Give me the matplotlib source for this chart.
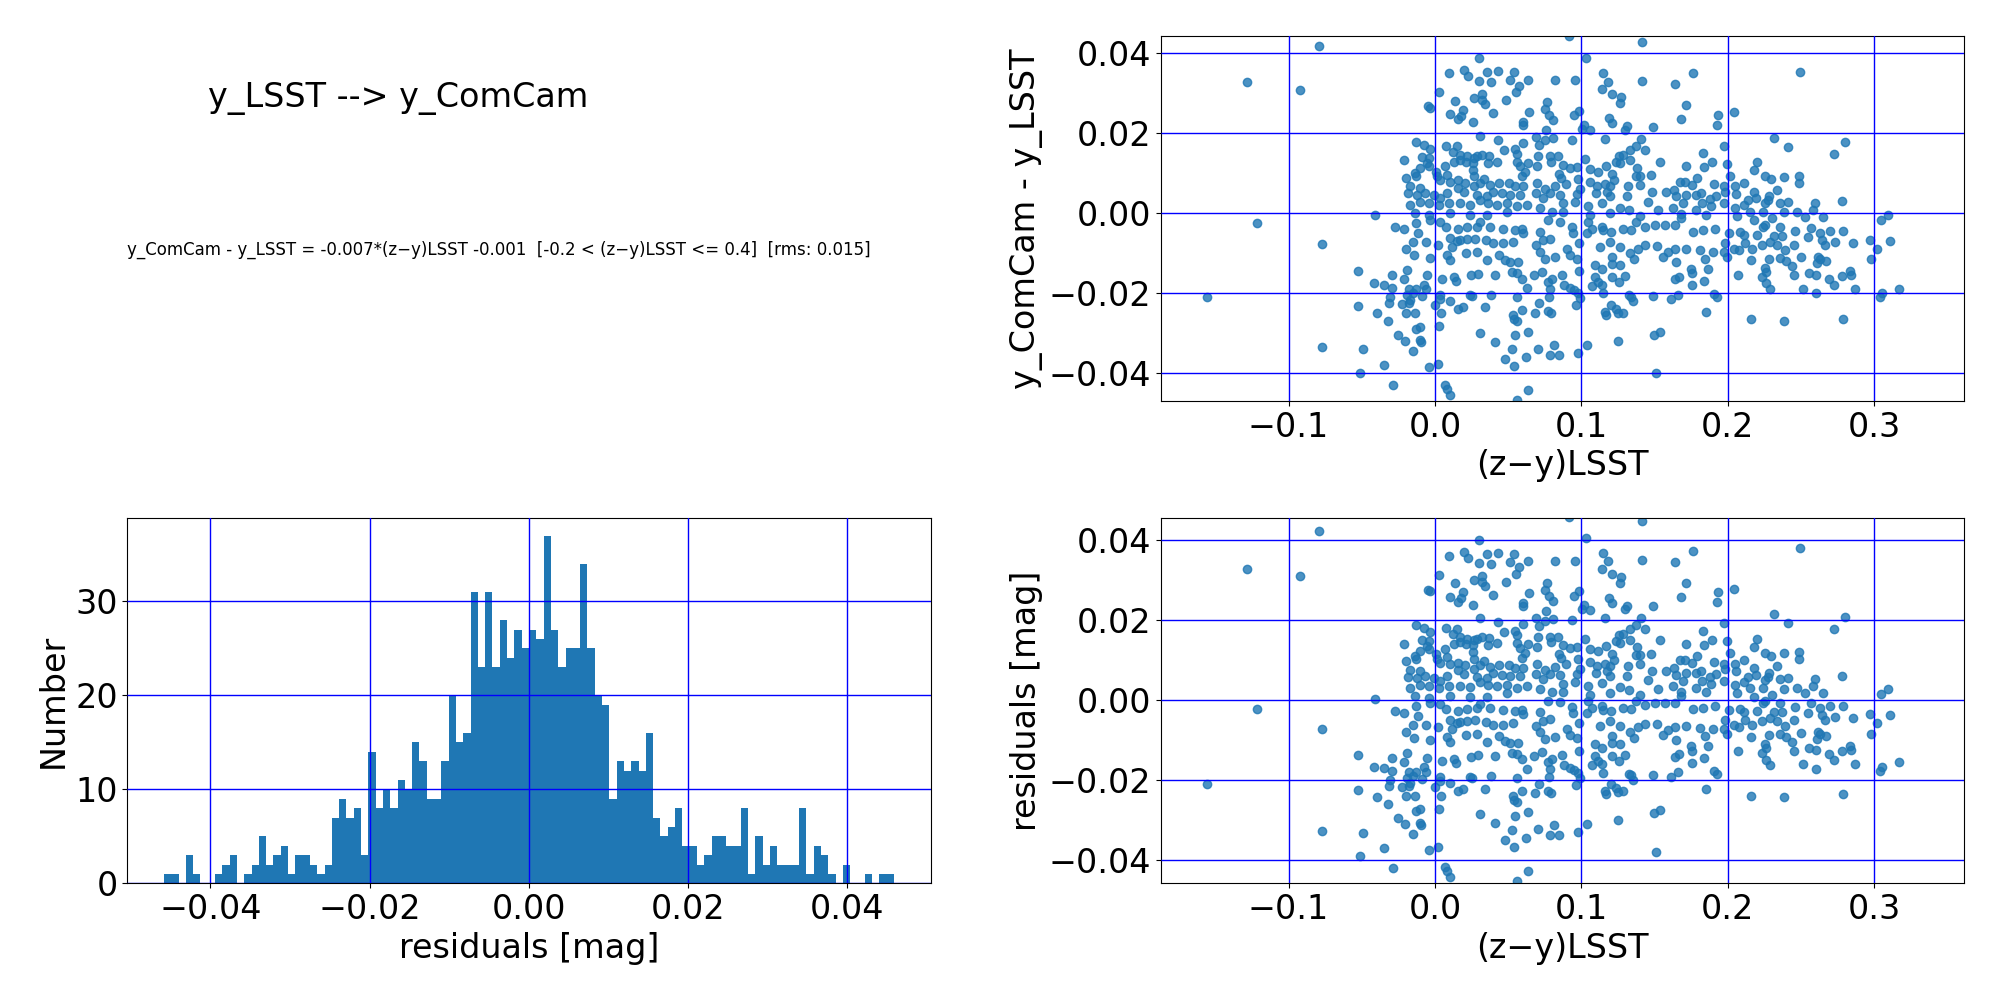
import numpy as np
import matplotlib
matplotlib.use('Agg')
import matplotlib.pyplot as plt

# fit used for the transformation
slope = -0.007
intercept = -0.001
rms = 0.015
title_txt = 'y_LSST --> y_ComCam'
fit_txt = ('y_ComCam - y_LSST = -0.007*(z\u2212y)LSST -0.001  '
           '[-0.2 < (z\u2212y)LSST <= 0.4]  [rms: 0.015]')

# (z-y)LSST, y_ComCam - y_LSST, grouped by region
pts_far_left = [(-0.1557, -0.0210), (-0.1287, 0.0327), (-0.1217, -0.0025), (-0.0922, 0.0308),
                (-0.0791, 0.0419), (-0.0774, -0.0076), (-0.0774, -0.0333)]

pts_left_top = [(0.0298,0.0388),(0.0093,0.0350),(0.0200,0.0358),(0.0229,0.0343),(0.0359,0.0352),(0.0434,0.0356),
    (0.0540,0.0352),(0.0298,0.0331),(0.0384,0.0327),(0.0514,0.0333),(0.0577,0.0318),(0.0638,0.0333),(0.0025,0.0302),
    (-0.0048,0.0267),(-0.0032,0.0263),(0.0139,0.0281),(0.0264,0.0288),(0.0325,0.0298),(0.0320,0.0283),(0.0339,0.0273),
    (0.0486,0.0282),(0.0554,0.0302),(0.0195,0.0258),(0.0105,0.0248),(0.0177,0.0243),(0.0161,0.0235),(0.0257,0.0227),
    (0.0400,0.0250),(0.0600,0.0229),(0.0600,0.0221),(0.0641,0.0254),(0.0311,0.0192),(0.0434,0.0182),(0.0604,0.0175),
    (-0.0132,0.0178),(-0.0073,0.0170),(-0.0032,0.0160),(0.0073,0.0169),(0.0150,0.0168),(0.0123,0.0154),(0.0173,0.0146),
    (0.0218,0.0142),(0.0264,0.0138),(0.0325,0.0146),(0.0370,0.0143),(0.0473,0.0157),(0.0548,0.0160),(0.0559,0.0148),
    (-0.0214,0.0132),(-0.0086,0.0140),(-0.0043,0.0138),(-0.0055,0.0125),(-0.0100,0.0114),(-0.0134,0.0100),(-0.0127,0.0093),
    (-0.0198,0.0088),(-0.0043,0.0117),(0.0009,0.0104),(0.0066,0.0117),(0.0082,0.0096),(0.0127,0.0129),(0.0173,0.0133),
    (0.0214,0.0129),(0.0259,0.0125),(0.0259,0.0108),(0.0286,0.0142),(0.0366,0.0125),(0.0423,0.0129),(0.0270,0.0092),
    (0.0332,0.0085),(0.0559,0.0129),(0.0582,0.0117),(0.0593,0.0092),(0.0638,0.0125),(0.0616,0.0104),(0.0014,0.0092),
    (0.0036,0.0083),(0.0105,0.0079),(0.0161,0.0082),(0.0207,0.0075),(0.0155,0.0063),(0.0200,0.0054),(0.0264,0.0067),
    (0.0309,0.0075),(0.0377,0.0071),(0.0441,0.0075),(0.0509,0.0075),(0.0548,0.0067),(0.0604,0.0067),(-0.0168,0.0067),
    (-0.0100,0.0063),(-0.0186,0.0050),(-0.0123,0.0046),(-0.0066,0.0050),(-0.0005,0.0046),(0.0036,0.0038),(0.0082,0.0050),
    (0.0286,0.0046),(0.0354,0.0042),(0.0400,0.0054),(0.0457,0.0050),(0.0514,0.0046),(0.0582,0.0046),(-0.0168,0.0021),
    (-0.0100,0.0029),(-0.0043,0.0025),(0.0025,0.0021),(0.0093,0.0025),(0.0173,0.0025),(0.0241,0.0021),(0.0309,0.0033),
    (0.0366,0.0025),(0.0423,0.0021),(0.0491,0.0025),(0.0559,0.0017),(0.0627,0.0021),(-0.0407,-0.0004),(-0.0134,0.0000),
    (-0.0043,-0.0004),(0.0105,0.0000),(0.0241,-0.0004),(0.0354,-0.0004),(0.0491,0.0004)]

pts_left_bot = [(-0.0127,-0.0025),(-0.0036,-0.0017),(0.0036,-0.0021),(-0.0275,-0.0035),(-0.0214,-0.0040),(-0.0118,-0.0050),
    (-0.0150,-0.0071),(-0.0198,-0.0089),(-0.0141,-0.0104),(-0.0059,-0.0071),(-0.0036,-0.0111),(0.0018,-0.0078),(0.0073,-0.0033),
    (0.0100,-0.0061),(0.0161,-0.0039),(0.0218,-0.0033),(0.0286,-0.0033),(0.0309,-0.0021),(0.0377,-0.0033),(0.0464,-0.0038),
    (0.0548,-0.0042),(0.0593,-0.0038),(0.0116,-0.0083),(0.0150,-0.0069),(0.0173,-0.0067),(0.0218,-0.0063),(0.0275,-0.0063),
    (0.0348,-0.0067),(0.0400,-0.0075),(0.0468,-0.0075),(0.0536,-0.0071),(0.0604,-0.0050),(0.0082,-0.0104),(0.0105,-0.0117),
    (0.0214,-0.0100),(0.0286,-0.0096),(0.0359,-0.0117),(0.0441,-0.0104),(0.0480,-0.0117),(0.0514,-0.0121),(0.0570,-0.0121),
    (-0.0527,-0.0144),(-0.0414,-0.0175),(-0.0345,-0.0178),(-0.0295,-0.0153),(-0.0293,-0.0186),(-0.0214,-0.0164),(-0.0191,-0.0142),
    (-0.0180,-0.0188),(-0.0127,-0.0189),(-0.0073,-0.0178),(-0.0055,-0.0154),(-0.0059,-0.0189),(0.0048,-0.0164),(0.0132,-0.0158),
    (0.0141,-0.0169),(0.0248,-0.0154),(0.0291,-0.0151),(0.0411,-0.0153),(0.0525,-0.0146),(0.0559,-0.0148),(0.0598,-0.0163),
    (0.0627,-0.0186),(-0.0309,-0.0208),(-0.0316,-0.0223),(-0.0191,-0.0204),(-0.0168,-0.0217),(-0.0180,-0.0225),(-0.0150,-0.0200),
    (-0.0089,-0.0206),(0.0032,-0.0203),(0.0036,-0.0213),(0.0002,-0.0228),(0.0100,-0.0219),(0.0155,-0.0240),(0.0195,-0.0233),
    (0.0241,-0.0204),(0.0252,-0.0206),(0.0384,-0.0204),(0.0343,-0.0235),(0.0563,-0.0209),(-0.0527,-0.0232),(-0.0395,-0.0250),
    (-0.0225,-0.0227),(-0.0195,-0.0250),(-0.0139,-0.0250),(0.0043,-0.0250),(-0.0323,-0.0268),(-0.0100,-0.0283),(-0.0127,-0.0288),
    (0.0025,-0.0282),(0.0532,-0.0254),(0.0541,-0.0263),(0.0559,-0.0269),(0.0593,-0.0242),(-0.0254,-0.0304),(-0.0207,-0.0319),
    (-0.0100,-0.0317),(-0.0095,-0.0322),(0.0305,-0.0298),(0.0548,-0.0304),(0.0638,-0.0296),(-0.0493,-0.0340),(-0.0152,-0.0344),
    (0.0411,-0.0321),(0.0529,-0.0340),(-0.0345,-0.0379),(-0.0043,-0.0385),(0.0020,-0.0377),(0.0482,-0.0364),(0.0541,-0.0381),
    (0.0623,-0.0360),(-0.0514,-0.0398),(-0.0289,-0.0429),(0.0070,-0.0429),(0.0082,-0.0439),(0.0100,-0.0454),(0.0559,-0.0467),
    (0.0638,-0.0442)]

pts_mid_top = [(0.0918,0.0443),(0.1416,0.0429),(0.1030,0.0388),(0.0820,0.0332),(0.0959,0.0332),(0.1150,0.0350),(0.1180,0.0329),
    (0.1416,0.0331),(0.1639,0.0323),(0.1763,0.0350),(0.1143,0.0310),(0.1211,0.0298),(0.1270,0.0290),(0.1264,0.0275),(0.0768,0.0277),
    (0.0752,0.0260),(0.0782,0.0246),(0.0805,0.0233),(0.0952,0.0245),(0.0986,0.0256),(0.1713,0.0271),(0.1191,0.0238),(0.1211,0.0225),
    (0.1020,0.0221),(0.1002,0.0210),(0.1059,0.0208),(0.1309,0.0217),(0.1298,0.0208),(0.1491,0.0215),(0.1679,0.0235),(0.1934,0.0246),
    (0.1927,0.0221),(0.0759,0.0207),(0.0691,0.0190),(0.0805,0.0188),(0.0752,0.0183),(0.0714,0.0171),(0.0939,0.0183),(0.1164,0.0186),
    (0.1411,0.0185),(0.1373,0.0168),(0.1332,0.0158),(0.1434,0.0157),(0.1259,0.0143),(0.1286,0.0146),(0.1236,0.0129),(0.1264,0.0125),
    (0.1332,0.0132),(0.1025,0.0135),(0.0707,0.0142),(0.0786,0.0143),(0.0843,0.0143),(0.0791,0.0129),(0.0695,0.0117),(0.0877,0.0121),
    (0.0923,0.0113),(0.0968,0.0115),(0.1059,0.0110),(0.1111,0.0104),(0.1168,0.0117),(0.1207,0.0098),(0.1384,0.0113),(0.1377,0.0092),
    (0.1400,0.0092),(0.1473,0.0096),(0.1536,0.0129),(0.1713,0.0117),(0.1832,0.0150),(0.1895,0.0128),(0.1836,0.0115),(0.0850,0.0098),
    (0.0859,0.0088),(0.0895,0.0073),(0.0820,0.0067),(0.0752,0.0060),(0.0695,0.0075),(0.0980,0.0085),(0.1059,0.0077),(0.1105,0.0068),
    (0.1161,0.0073),(0.1195,0.0067),(0.1225,0.0082),(0.1320,0.0067),(0.1404,0.0071),(0.0991,0.0060),(0.0786,0.0050),(0.0855,0.0046),
    (0.0741,0.0038),(0.0691,0.0050),(0.0968,0.0048),(0.1098,0.0050),(0.1173,0.0054),(0.1195,0.0042),(0.1309,0.0042),(0.1486,0.0052),
    (0.1577,0.0052),(0.1632,0.0058),(0.1673,0.0079),(0.1707,0.0079),(0.1759,0.0071),(0.1791,0.0088),(0.1904,0.0073),(0.1650,0.0042),
    (0.1718,0.0046),(0.1786,0.0046),(0.1820,0.0050),(0.1877,0.0035),(0.1923,0.0042),(0.0877,0.0025),(0.0957,0.0029),(0.1048,0.0017),
    (0.1139,0.0025),(0.1264,0.0013),(0.1327,0.0007),(0.1457,0.0029),(0.1525,0.0008),(0.1627,0.0013),(0.1695,0.0025),(0.1827,0.0025),
    (0.1889,0.0017),(0.0718,0.0013),(0.0798,0.0004),(0.0877,0.0004),(0.1059,-0.0004),(0.1195,0.0000),(0.1400,-0.0008),(0.1684,-0.0002),
    (0.1786,0.0008),(0.1854,-0.0004)]

pts_mid_bot = [(0.0775,-0.0017),(0.0855,-0.0021),(0.0934,-0.0033),(0.0941,-0.0050),(0.1048,-0.0021),(0.1041,-0.0050),(0.1070,-0.0038),
    (0.1139,-0.0033),(0.1145,-0.0042),(0.1200,-0.0046),(0.1286,-0.0038),(0.1343,-0.0042),(0.1377,-0.0023),(0.1434,-0.0033),(0.1502,-0.0029),
    (0.1570,-0.0029),(0.1639,-0.0029),(0.1684,-0.0013),(0.1763,-0.0046),(0.1832,-0.0042),(0.1911,-0.0038),(0.0718,-0.0046),(0.0741,-0.0067),
    (0.0786,-0.0063),(0.0691,-0.0079),(0.0718,-0.0096),(0.0752,-0.0114),(0.0820,-0.0108),(0.0905,-0.0088),(0.0923,-0.0103),(0.0968,-0.0113),
    (0.0986,-0.0075),(0.1127,-0.0083),(0.1195,-0.0071),(0.1264,-0.0083),(0.1332,-0.0100),(0.1360,-0.0114),(0.1389,-0.0088),(0.1434,-0.0079),
    (0.1514,-0.0081),(0.1559,-0.0108),(0.1593,-0.0096),(0.1639,-0.0088),(0.1650,-0.0121),(0.1718,-0.0088),(0.1809,-0.0092),(0.1843,-0.0113),
    (0.1900,-0.0096),(0.1866,-0.0138),(0.1207,-0.0108),(0.1213,-0.0127),(0.1264,-0.0129),(0.1093,-0.0129),(0.1139,-0.0138),(0.0677,-0.0154),
    (0.0730,-0.0146),(0.0798,-0.0163),(0.0866,-0.0153),(0.0986,-0.0144),(0.1093,-0.0158),(0.1116,-0.0171),(0.1070,-0.0181),(0.1139,-0.0179),
    (0.1213,-0.0158),(0.1259,-0.0171),(0.1298,-0.0156),(0.1639,-0.0163),(0.1668,-0.0158),(0.1750,-0.0138),(0.1754,-0.0150),(0.1759,-0.0179),
    (0.1836,-0.0169),(0.0775,-0.0171),(0.0786,-0.0188),(0.0882,-0.0179),(0.0923,-0.0186),(0.0950,-0.0192),(0.0980,-0.0200),(0.1150,-0.0200),
    (0.0782,-0.0208),(0.0991,-0.0211),(0.1327,-0.0204),(0.1339,-0.0208),(0.1350,-0.0219),(0.1491,-0.0207),(0.1616,-0.0213),(0.1661,-0.0203),
    (0.1904,-0.0202),(0.1927,-0.0208),(0.0714,-0.0225),(0.0964,-0.0229),(0.1202,-0.0229),(0.1161,-0.0246),(0.1168,-0.0254),(0.1236,-0.0238),
    (0.1252,-0.0248),(0.1282,-0.0248),(0.0686,-0.0248),(0.0775,-0.0244),(0.0791,-0.0248),(0.1850,-0.0246),(0.1495,-0.0304),(0.1541,-0.0296),
    (0.1252,-0.0319),(0.1041,-0.0328),(0.0814,-0.0329),(0.0707,-0.0338),(0.0786,-0.0354),(0.0850,-0.0353),(0.0980,-0.0348),(0.1509,-0.0400)]

pts_right_top = [(0.2494,0.0353),(0.2045,0.0253),(0.2320,0.0188),(0.2415,0.0166),(0.2800,0.0178),(0.2726,0.0148),(0.1973,0.0168),
    (0.1995,0.0123),(0.2204,0.0128),(0.2181,0.0108),(0.2018,0.0094),(0.2252,0.0093),(0.2297,0.0085),(0.2388,0.0090),(0.2488,0.0093),
    (0.2488,0.0075),(0.2113,0.0075),(0.2052,0.0067),(0.1977,0.0067),(0.1984,0.0054),(0.2059,0.0048),(0.2177,0.0054),(0.2195,0.0038),
    (0.2336,0.0058),(0.2286,0.0042),(0.2274,0.0032),(0.2256,0.0025),(0.1973,0.0025),(0.2136,0.0032),(0.2109,0.0021),(0.2048,0.0013),
    (0.2358,0.0025),(0.2410,0.0027),(0.2596,0.0025),(0.2580,0.0008),(0.2782,0.0031),(0.2154,0.0004),(0.2245,0.0004),(0.2388,0.0002),
    (0.2476,0.0002),(0.2653,-0.0010),(0.3095,-0.0004),(0.3050,-0.0017),(0.2063,-0.0008),(0.2302,-0.0013),(0.2528,-0.0010)]

pts_right_bot = [(0.2177,-0.0017),(0.2256,-0.0029),(0.2007,-0.0050),(0.2086,-0.0046),(0.2113,-0.0054),(0.2200,-0.0054),(0.2245,-0.0033),
    (0.2317,-0.0056),(0.2358,-0.0033),(0.2370,-0.0056),(0.2460,-0.0044),(0.2567,-0.0036),(0.2551,-0.0060),(0.2630,-0.0048),(0.2698,-0.0044),
    (0.2785,-0.0044),(0.2642,-0.0067),(0.2664,-0.0078),(0.2732,-0.0071),(0.2857,-0.0075),(0.2970,-0.0067),(0.3107,-0.0069),(0.3020,-0.0089),
    (0.2982,-0.0115),(0.1984,-0.0075),(0.1973,-0.0096),(0.1995,-0.0108),(0.2041,-0.0088),(0.2075,-0.0092),(0.2120,-0.0075),(0.2166,-0.0088),
    (0.2234,-0.0079),(0.2290,-0.0071),(0.2336,-0.0079),(0.2392,-0.0092),(0.2454,-0.0078),(0.2159,-0.0117),(0.2286,-0.0113),(0.2358,-0.0111),
    (0.2399,-0.0119),(0.2501,-0.0109),(0.2442,-0.0132),(0.2619,-0.0108),(0.2630,-0.0114),(0.2612,-0.0125),(0.2671,-0.0119),(0.2256,-0.0136),
    (0.2263,-0.0146),(0.2234,-0.0158),(0.2068,-0.0153),(0.2456,-0.0154),(0.2556,-0.0148),(0.2601,-0.0153),(0.2834,-0.0144),(0.2846,-0.0154),
    (0.2782,-0.0157),(0.2694,-0.0163),(0.2728,-0.0179),(0.2261,-0.0175),(0.2290,-0.0188),(0.2517,-0.0188),(0.2605,-0.0200),(0.2868,-0.0190),
    (0.3054,-0.0198),(0.3039,-0.0209),(0.3168,-0.0188),(0.2161,-0.0265),(0.2388,-0.0269),(0.2789,-0.0265)]

# histogram of residuals: 100 bins
hist_lo, hist_hi = -0.04585, 0.04594
hist_counts = [1, 1, 0, 3, 1, 0, 0, 1, 2, 3,
               0, 1, 2, 5, 2, 3, 4, 1, 3, 3,
               2, 1, 2, 7, 9, 7, 8, 3, 14, 8,
               10, 8, 11, 10, 15, 13, 9, 9, 13, 20,
               15, 16, 31, 23, 31, 23, 28, 24, 27, 25,
               27, 26, 37, 27, 23, 25, 25, 34, 25, 20,
               19, 9, 13, 12, 13, 12, 16, 7, 5, 6,
               8, 4, 4, 2, 3, 5, 5, 4, 4, 8,
               1, 5, 2, 4, 2, 2, 2, 8, 1, 4,
               3, 1, 0, 2, 0, 0, 1, 0, 1, 1]

all_pts = np.array(pts_far_left + pts_left_top + pts_left_bot + pts_mid_top
                   + pts_mid_bot + pts_right_top + pts_right_bot)
zy = all_pts[:, 0]
dmag = all_pts[:, 1]
resid = dmag - (slope * zy + intercept)

fs = 24
fig, axs = plt.subplots(2, 2, figsize=(20, 10), dpi=100)
plt.subplots_adjust(left=0.0637, right=0.982, bottom=0.1167, top=0.964, wspace=0.2866, hspace=0.3214)

# text panel
ax0 = axs[0, 0]
ax0.axis('off')
ax0.text(0.1, 0.805, title_txt, fontsize=24, transform=ax0.transAxes)
ax0.text(0.0, 0.4, fit_txt, fontsize=12, transform=ax0.transAxes)

# colour term scatter
ax1 = axs[0, 1]
ax1.scatter(zy, dmag, alpha=0.8)
ax1.set_xlim(-0.1873, 0.3615)
ax1.set_ylim(-0.0469, 0.0443)
ax1.set_xlabel('(z\u2212y)LSST', fontsize=fs)
ax1.set_ylabel('y_ComCam - y_LSST', fontsize=fs)

# residual histogram
ax2 = axs[1, 0]
edges = np.linspace(hist_lo, hist_hi, len(hist_counts) + 1)
ax2.hist(edges[:-1], bins=edges, weights=hist_counts)
ax2.set_xlim(-0.05044, 0.05053)
ax2.set_xticks([-0.04, -0.02, 0.0, 0.02, 0.04])
ax2.set_xlabel('residuals [mag]', fontsize=fs)
ax2.set_ylabel('Number', fontsize=fs)

# residuals vs colour
ax3 = axs[1, 1]
ax3.scatter(zy, resid, alpha=0.8)
ax3.set_xlim(-0.1873, 0.3615)
ax3.set_ylim(-0.0459, 0.0455)
ax3.set_xlabel('(z\u2212y)LSST', fontsize=fs)
ax3.set_ylabel('residuals [mag]', fontsize=fs)

for ax in [ax1, ax2, ax3]:
    ax.grid(True, color='blue', linestyle='-', linewidth=1)
    ax.set_axisbelow(False)
    ax.tick_params(labelsize=fs)

fig.savefig('out.png')
